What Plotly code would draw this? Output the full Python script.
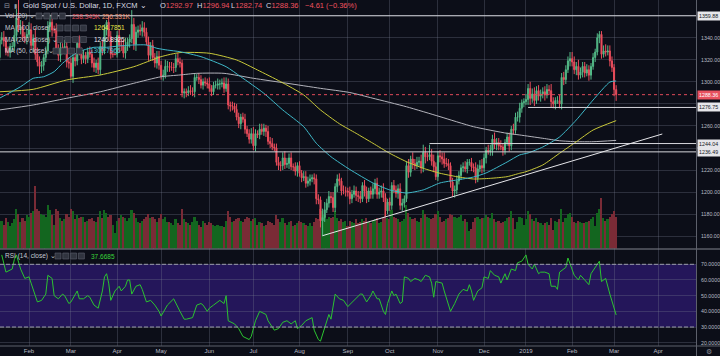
import pandas as pd
import plotly.graph_objects as go

# ---------------- data ----------------
first_open = 1322.0
closes = [
    1338,
    1340, 1337, 1327, 1327, 1332,
    1332, 1342, 1358, 1348, 1350,
    1341, 1340, 1343, 1347, 1333,
    1339, 1325, 1318, 1314, 1315,
    1322, 1328, 1350, 1354, 1347,
    1347, 1330, 1324, 1331, 1329,
    1332, 1318, 1317, 1305, 1322,
    1319, 1335, 1327, 1321, 1324,
    1321, 1327, 1325, 1317, 1313,
    1317, 1311, 1332, 1328, 1347,
    1354, 1341, 1325, 1325, 1325,
    1342, 1333, 1333, 1326, 1332,
    1336, 1339, 1352, 1334, 1345,
    1347, 1346, 1349, 1345, 1336,
    1324, 1333, 1322, 1317, 1323,
    1315, 1305, 1306, 1314, 1314,
    1313, 1313, 1313, 1321, 1318,
    1317, 1290, 1291, 1290, 1292,
    1291, 1291, 1304, 1304, 1302,
    1297, 1300, 1299, 1298, 1294,
    1291, 1297, 1297, 1298, 1298,
    1299, 1294, 1298, 1279, 1278,
    1278, 1275, 1268, 1262, 1268,
    1266, 1257, 1253, 1248, 1253,
    1242, 1253, 1252, 1257, 1255,
    1258, 1255, 1246, 1244, 1241,
    1240, 1227, 1224, 1224, 1231,
    1225, 1226, 1231, 1223, 1223,
    1219, 1224, 1217, 1213, 1214,
    1208, 1210, 1212, 1213, 1212,
    1194, 1193, 1174, 1177, 1184,
    1190, 1196, 1195, 1186, 1205,
    1212, 1210, 1201, 1201, 1201,
    1200, 1194, 1198, 1201, 1197,
    1196, 1194, 1206, 1201, 1194,
    1201, 1198, 1203, 1208, 1198,
    1200, 1201, 1195, 1183, 1191,
    1188, 1206, 1202, 1199, 1203,
    1188, 1190, 1194, 1224, 1218,
    1230, 1226, 1224, 1227, 1228,
    1222, 1236, 1232, 1232, 1234,
    1228, 1223, 1214, 1233, 1232,
    1230, 1226, 1226, 1224, 1209,
    1201, 1202, 1210, 1215, 1222,
    1223, 1221, 1227, 1227, 1223,
    1222, 1213, 1221, 1224, 1222,
    1231, 1238, 1237, 1238, 1248,
    1243, 1245, 1242, 1241, 1238,
    1245, 1250, 1242, 1257, 1256,
    1268, 1268, 1276, 1281,
    1282, 1284, 1294, 1285,
    1289, 1283, 1292, 1287, 1289,
    1291, 1288, 1293, 1292, 1282,
    1280, 1283, 1283, 1280, 1304,
    1302, 1311, 1319, 1321, 1318,
    1311, 1314, 1306, 1309, 1314,
    1308, 1311, 1306, 1314, 1322,
    1327, 1340, 1343, 1325, 1328,
    1327, 1328, 1319, 1313, 1292.97,
    1288.36,
]
upper_wick = [
    4,
    5, 6, 4, 5, 3,
    4, 5, 8, 18, 6,
    5, 4, 5, 7, 6,
    4, 10, 6, 5, 4,
    3, 4, 5, 7, 8,
    4, 6, 4, 5, 4,
    6, 5, 4, 5, 4,
    4, 5, 7, 4, 5,
    3, 4, 5, 4, 5,
    3, 5, 4, 6, 5,
    2, 6, 5, 3, 1,
    4, 5, 6, 5, 8,
    4, 4, 13, 6, 5,
    4, 5, 6, 5, 4,
    5, 3, 5, 4, 5,
    5, 4, 5, 6, 5,
    4, 5, 4, 4, 5,
    4, 3, 3, 3, 4,
    5, 4, 3, 3, 4,
    4, 3, 4, 4, 6,
    3, 3, 4, 5, 4,
    4, 5, 6, 5, 3,
    4, 3, 5, 4, 3,
    4, 5, 3, 4, 5,
    6, 4, 3, 5, 5,
    4, 3, 5, 4, 5,
    3, 4, 5, 4, 5,
    6, 5, 4, 5, 3,
    4, 3, 4, 3, 5,
    5, 4, 4, 3, 4,
    4, 4, 3, 8, 7,
    4, 5, 4, 5, 3,
    4, 5, 3, 5, 4,
    3, 5, 4, 5, 4,
    4, 5, 3, 5, 4,
    3, 4, 5, 4, 5,
    4, 5, 7, 4, 3,
    4, 3, 5, 4, 4,
    5, 4, 3, 4, 6,
    3, 6, 4, 5, 4,
    6, 7, 5, 4, 9,
    5, 6, 4, 4, 5,
    4, 6, 5, 4, 3,
    4, 4, 5, 4, 3,
    4, 5, 3, 3, 4,
    3, 5, 4, 5, 6,
    4, 3, 5, 5, 4,
    6, 4, 4, 5, 3,
    3, 4, 4, 3, 5,
    4, 5, 5, 3,
    3, 5, 4, 6,
    5, 6, 4, 5, 4,
    4, 5, 5, 4, 6,
    4, 3, 4, 5, 4,
    5, 4, 4, 6, 6,
    5, 4, 6, 4, 4,
    4, 5, 4, 3, 4,
    3, 4, 3, 3, 5,
    6, 5, 5, 4, 3,
    3.97,
]
lower_wick = [
    3,
    4, 5, 3, 4, 5,
    5, 4, 5, 3, 5,
    4, 5, 6, 3, 4,
    6, 5, 4, 7, 6,
    5, 4, 3, 5, 6,
    3, 4, 5, 6, 4,
    4, 5, 5, 2, 6,
    5, 4, 3, 5, 4,
    5, 4, 3, 4, 4,
    5, 4, 5, 4, 3,
    5, 4, 4, 3, 1,
    3, 6, 5, 4, 5,
    4, 5, 4, 5, 6,
    5, 4, 5, 4, 3,
    5, 4, 3, 4, 5,
    4, 3, 4, 3, 5,
    4, 3, 5, 4, 3,
    4, 4, 5, 4, 3,
    3, 4, 5, 3, 4,
    3, 4, 3, 4, 3,
    4, 3, 3, 4, 5,
    3, 4, 3, 4, 5,
    4, 3, 3, 4, 5,
    3, 4, 3, 4, 4,
    4, 5, 3, 4, 3,
    4, 5, 3, 4, 3,
    3, 3, 4, 5, 4,
    4, 3, 5, 3, 4,
    4, 5, 3, 4, 3,
    4, 3, 4, 3, 5,
    5, 4, 6, 14, 4,
    3, 4, 5, 4, 4,
    5, 4, 4, 3, 5,
    4, 5, 4, 3, 5,
    5, 4, 3, 5, 4,
    3, 4, 4, 5, 4,
    4, 5, 4, 5, 3,
    5, 4, 3, 4, 5,
    4, 5, 4, 3, 5,
    4, 5, 4, 3, 4,
    5, 4, 6, 4, 3,
    4, 5, 3, 4, 5,
    5, 4, 3, 4, 5,
    5, 6, 4, 3, 4,
    4, 3, 4, 3, 4,
    4, 5, 4, 3, 5,
    4, 5, 3, 4, 5,
    4, 5, 4, 3, 5,
    4, 3, 5, 4, 4,
    3, 4, 5, 4,
    4, 3, 5, 6,
    4, 5, 3, 4, 5,
    4, 5, 3, 4, 5,
    4, 5, 3, 4, 5,
    5, 4, 3, 5, 4,
    4, 5, 4, 3, 5,
    4, 3, 5, 4, 3,
    4, 3, 5, 4, 3,
    4, 3, 5, 4, 6,
    5.62,
]
volume_k = [
    190,
    210, 180, 230, 200, 170,
    190, 220, 300, 260, 200,
    230, 210, 250, 240, 270,
    280, 470, 300, 280, 260,
    250, 240, 330, 290, 250,
    180, 300, 280, 230, 210,
    220, 260, 240, 300, 280,
    220, 250, 230, 240, 240,
    200, 210, 220, 230, 210,
    200, 240, 280, 230, 290,
    270, 240, 250, 180, 120,
    210, 230, 250, 240, 230,
    210, 230, 290, 270, 230,
    200, 190, 210, 220, 240,
    260, 230, 240, 220, 200,
    230, 260, 220, 240, 200,
    200, 190, 180, 220, 190,
    180, 300, 220, 200, 190,
    180, 200, 240, 210, 180,
    160, 210, 190, 180, 200,
    190, 180, 170, 180, 170,
    170, 160, 210, 280, 240,
    200, 210, 220, 230, 210,
    200, 220, 240, 230, 210,
    220, 230, 180, 200, 190,
    170, 180, 210, 200, 190,
    180, 250, 220, 200, 230,
    190, 180, 200, 210, 170,
    180, 190, 210, 200, 190,
    180, 170, 190, 170, 200,
    230, 220, 300, 280, 250,
    220, 240, 230, 240, 280,
    230, 210, 220, 200, 210,
    170, 210, 200, 190, 220,
    190, 200, 220, 210, 230,
    200, 190, 210, 220, 230,
    190, 200, 230, 280, 230,
    220, 290, 240, 230, 220,
    200, 210, 220, 330, 270,
    240, 220, 230, 210, 200,
    230, 290, 260, 240, 230,
    220, 230, 260, 280, 240,
    200, 210, 220, 230, 260,
    250, 240, 230, 240, 250,
    210, 220, 200, 130, 150,
    200, 230, 240, 220, 230,
    230, 250, 240, 230, 270,
    220, 200, 210, 190, 200,
    210, 230, 240, 280, 230,
    150, 200, 240, 230,
    180, 220, 280, 260,
    220, 210, 230, 200, 190,
    180, 190, 200, 180, 230,
    140, 210, 200, 220, 300,
    200, 230, 260, 270, 240,
    200, 190, 210, 200, 190,
    190, 200, 210, 220, 240,
    170, 270, 300, 380, 230,
    210, 220, 240, 260, 280,
    238.345,
]

# (bar number, value) points
ma50_points = [(0, 1285.2), (10, 1295.6), (16, 1303.2), (21, 1304.6), (26, 1309.2), (30, 1316.8),
               (35, 1324.3), (40, 1328.8), (45, 1331.3), (51, 1331.3), (57, 1332.5), (64, 1333.4),
               (70, 1333.4), (75, 1330.4), (80, 1328.8), (86, 1327.3), (96, 1322.8), (108, 1313.7),
               (115, 1304.6), (126, 1289.6), (135, 1274.5), (145, 1259.3), (151, 1244.3), (158, 1232.1),
               (167, 1220.5), (178, 1208.3), (186, 1202.0), (194, 1199.2), (202, 1202.0), (210, 1208.3),
               (218, 1211.0), (226, 1213.7), (232, 1217.4), (242, 1227.3), (248, 1233.7), (252, 1235.5),
               (259, 1240.9), (267, 1250.0), (275, 1265.4), (283, 1283.5), (291, 1299.8), (294, 1300.8)]
ma100_points = [(0, 1291.0), (16, 1293.2), (32, 1301.7), (48, 1306.2), (64, 1313.7), (77, 1322.8),
                (86, 1326.5), (100, 1325.9), (113, 1319.8), (123, 1310.7), (134, 1300.1), (145, 1288.1),
                (153, 1274.5), (162, 1262.0), (170, 1253.3), (178, 1244.3), (186, 1235.2), (194, 1227.6),
                (202, 1221.6), (210, 1217.1), (218, 1214.0), (226, 1211.9), (234, 1212.5), (242, 1214.0),
                (248, 1217.1), (251, 1218.5), (259, 1224.6), (267, 1235.2), (275, 1245.7), (283, 1256.3),
                (294, 1264.8)]
ma200_points = [(0, 1274.5), (16, 1279.0), (32, 1285.1), (48, 1291.0), (64, 1298.7), (77, 1304.6),
                (86, 1306.2), (94, 1307.7), (107, 1307.7), (121, 1303.2), (137, 1298.7), (153, 1294.1),
                (167, 1290.3), (178, 1285.1), (194, 1277.4), (210, 1268.4), (226, 1259.3), (242, 1253.3),
                (248, 1251.8), (259, 1248.8), (267, 1246.6), (275, 1245.7), (283, 1245.7), (294, 1246.9)]
rsi_points = [(1, 76), (3, 65), (6, 67), (7, 73), (8, 76), (10, 67), (12, 61), (14, 62), (15, 58), (17, 49),
              (18, 46), (20, 47), (22, 51), (23, 63), (25, 61), (26, 50), (28, 48), (30, 51), (31, 50), (33, 45),
              (34, 46), (37, 53), (38, 48), (40, 48), (42, 50), (43, 49), (45, 44), (47, 42), (49, 53), (50, 62),
              (51, 64), (52, 58), (53, 47), (55, 53), (57, 56), (58, 53), (60, 56), (61, 60), (62, 60), (63, 51),
              (65, 56), (67, 57), (68, 54), (70, 46), (72, 47), (74, 44), (76, 40), (77, 37), (79, 42), (80, 44),
              (83, 48), (84, 45), (86, 40), (88, 35), (89, 35), (92, 36), (94, 44), (96, 45), (97, 44), (99, 40),
              (100, 42), (102, 44), (104, 46), (105, 47), (107, 45), (108, 50), (109, 34), (112, 32), (114, 29),
              (116, 24), (119, 22), (120, 24), (122, 34), (124, 40), (127, 38), (128, 34), (131, 28), (133, 29),
              (135, 33), (137, 34), (139, 32), (141, 34), (142, 29), (144, 31), (146, 34), (149, 36), (150, 28),
              (152, 22), (153, 21), (155, 30), (157, 38), (158, 35), (160, 51), (162, 48), (164, 47), (166, 43),
              (169, 47), (172, 51), (173, 51), (175, 46), (177, 50), (178, 53), (180, 48), (181, 48), (183, 40),
              (184, 38), (185, 45), (187, 53), (188, 50), (189, 51), (191, 45), (192, 46), (193, 62), (195, 61),
              (196, 59), (198, 61), (200, 60), (201, 59), (203, 63), (205, 62), (206, 58), (207, 49), (208, 59),
              (211, 58), (212, 53), (214, 45), (215, 40), (217, 45), (219, 51), (221, 54), (223, 53), (224, 57),
              (225, 53), (226, 47), (228, 53), (230, 55), (231, 62), (233, 61), (234, 66), (236, 63), (238, 62),
              (239, 58), (241, 64), (242, 60), (244, 67), (246, 66), (247, 71), (249, 72), (251, 76), (252, 70),
              (254, 67), (255, 70), (257, 64), (258, 65), (260, 65), (262, 64), (263, 56), (265, 56), (266, 54),
              (267, 65), (270, 68), (271, 74), (273, 66), (274, 63), (276, 60), (277, 63), (279, 60), (281, 57),
              (282, 64), (284, 68), (286, 72), (287, 59), (289, 61), (291, 51), (293, 43), (294, 37.67)]

month_ticks = ["2018-02-01", "2018-03-01", "2018-04-02", "2018-05-01", "2018-06-01", "2018-07-02",
               "2018-08-01", "2018-09-03", "2018-10-01", "2018-11-01", "2018-12-03", "2019-01-02",
               "2019-02-01", "2019-03-01", "2019-04-01"]
month_labels = ["Feb", "Mar", "Apr", "May", "Jun", "Jul", "Aug", "Sep", "Oct", "Nov", "Dec", "2019",
                "Feb", "Mar", "Apr"]

price_ticks = [1160, 1180, 1200, 1220, 1240, 1260, 1280, 1300, 1320, 1340, 1360]
price_tick_text = ["1160.00", "1180.00", "1200.00", "1220.00", "", "1260.00", "", "1300.00",
                   "1320.00", "1340.00", ""]
rsi_ticks = [20, 30, 40, 50, 60, 70]
rsi_tick_text = ["20.0000", "30.0000", "40.0000", "50.0000", "60.0000", "70.0000"]

full_levels = [1359.88, 1236.49]
ray_levels = [("2018-10-26", 1244.04), ("2019-01-03", 1276.75)]
last_price = 1288.36
trend_dates = ["2018-08-16", "2019-04-03"]
trend_prices = [1160.5, 1252.7]

# ---------------- calendar ----------------
holidays = pd.to_datetime(["2018-12-25", "2019-01-01"])
cal = pd.bdate_range("2018-01-12", "2019-04-30")
cal = cal[~cal.isin(holidays)]


def bar_of(d):
    return int(cal.searchsorted(pd.Timestamp(d)))


n = len(closes)
xs = list(range(n))
opens = [first_open] + closes[:-1]
highs = [max(o, c) + u for o, c, u in zip(opens, closes, upper_wick)]
lows = [min(o, c) - l for o, c, l in zip(opens, closes, lower_wick)]
up = [c >= o for o, c in zip(opens, closes)]

# ---------------- geometry (px) ----------------
W, H = 720, 356
PR = 696          # right edge of plotting area
MAIN_BOTTOM = 248.5
RSI_TOP, RSI_BOTTOM = 249, 346
px_per_bar = 2.097
x0 = 0.17
xrange_ = [x0, x0 + PR / px_per_bar]


def py(p):  # pixel y -> paper
    return 1 - p / H


def pxx(p):
    return p / W


BG = "#0c0e18"
GRID = "rgba(120,125,145,0.30)"
AX_TXT = "#b8bbc4"
FONT = "Liberation Sans"
UPC, DNC = "#53b987", "#eb4d5c"

fig = go.Figure()

# volume (base axis of main pane, drawn beneath)
fig.add_trace(go.Bar(x=xs, y=volume_k, width=0.8, xaxis="x", yaxis="y",
                     marker=dict(color=["#13661f" if u else "#7a2b36" for u in up], line=dict(width=0)),
                     hoverinfo="skip", showlegend=False))

# moving averages
for pts, col in [(ma200_points, "#b4b4bc"), (ma100_points, "#c9c93a"), (ma50_points, "#3fb8c8")]:
    fig.add_trace(go.Scatter(x=[p[0] for p in pts], y=[p[1] for p in pts], mode="lines",
                             line=dict(color=col, width=1, shape="spline", smoothing=0.6),
                             xaxis="x", yaxis="y3", hoverinfo="skip", showlegend=False))

fig.add_trace(go.Candlestick(x=xs, open=opens, high=highs, low=lows, close=closes,
                             xaxis="x", yaxis="y3",
                             increasing=dict(line=dict(color=UPC, width=1), fillcolor=UPC),
                             decreasing=dict(line=dict(color=DNC, width=1), fillcolor=DNC),
                             whiskerwidth=0, showlegend=False, hoverinfo="skip"))

fig.add_trace(go.Scatter(x=[p[0] for p in rsi_points], y=[p[1] for p in rsi_points], mode="lines",
                         line=dict(color="#2bc430", width=1), xaxis="x2", yaxis="y2",
                         hoverinfo="skip", showlegend=False))

tickpos = [bar_of(d) for d in month_ticks]

shapes = []
# RSI band
shapes.append(dict(type="rect", xref="paper", x0=0, x1=pxx(PR), yref="y2", y0=30, y1=70,
                   fillcolor="#24165a", line=dict(width=0), layer="below"))
for lv in (70, 30):
    shapes.append(dict(type="line", xref="paper", x0=0, x1=pxx(PR), yref="y2", y0=lv, y1=lv,
                       line=dict(color="#9a9cab", width=1, dash="4px,2px")))
# horizontal levels
for lv in full_levels:
    shapes.append(dict(type="line", xref="paper", x0=0, x1=pxx(PR), yref="y3", y0=lv, y1=lv,
                       line=dict(color="#d6d6dc", width=1)))
for d, lv in ray_levels:
    shapes.append(dict(type="line", xref="x", x0=bar_of(d), x1=xrange_[1], yref="y3", y0=lv, y1=lv,
                       line=dict(color="#d6d6dc", width=1)))
shapes.append(dict(type="line", xref="paper", x0=0, x1=pxx(PR), yref="y3", y0=last_price, y1=last_price,
                   line=dict(color="#e04a5a", width=1, dash="dot")))
shapes.append(dict(type="line", xref="x", x0=bar_of(trend_dates[0]), x1=bar_of(trend_dates[1]),
                   yref="y3", y0=trend_prices[0], y1=trend_prices[1],
                   line=dict(color="#e6e6ea", width=1)))
# pane separators
shapes.append(dict(type="line", xref="paper", x0=0, x1=1, yref="paper", y0=py(249), y1=py(249),
                   line=dict(color="#80838d", width=1)))
shapes.append(dict(type="line", xref="paper", x0=0, x1=1, yref="paper", y0=py(346), y1=py(346),
                   line=dict(color="#5d606b", width=1)))
shapes.append(dict(type="line", xref="paper", x0=pxx(PR + 0.5), x1=pxx(PR + 0.5), yref="paper", y0=0, y1=1,
                   line=dict(color="#5d606b", width=1)))

annotations = []


def txt(x, y, s, size=6.5, color="#c5c8d0", anchor="left"):
    annotations.append(dict(x=pxx(x), y=py(y), xref="paper", yref="paper", text=s, showarrow=False,
                            xanchor=anchor, yanchor="middle", font=dict(family=FONT, size=size, color=color)))


def boxes(x_start, y):
    for i in range(4):
        bx = x_start + i * 7.8
        shapes.append(dict(type="rect", xref="paper", yref="paper", x0=pxx(bx), x1=pxx(bx + 6),
                           y0=py(y + 3), y1=py(y - 3), fillcolor="#30343f",
                           line=dict(color="#5c606b", width=0.6)))


# header
txt(2, 5.5, "⊟", 7, "#9598a1")
txt(12, 5.5, "▮", 6, "#9598a1")
txt(21, 5.5, "Gold Spot / U.S. Dollar, 1D, FXCM ⌄", 7.5, "#d9dbe2")
red = "#f0525f"
txt(158, 5.5, f"O<span style='color:{red}'>1292.97</span>", 7.5, "#d9dbe2")
txt(195, 5.5, f"H<span style='color:{red}'>1296.94</span>", 7.5, "#d9dbe2")
txt(229, 5.5, f"L<span style='color:{red}'>1282.74</span>", 7.5, "#d9dbe2")
txt(264, 5.5, f"C<span style='color:{red}'>1288.36</span>", 7.5, "#d9dbe2")
txt(303, 5.5, "−4.61 (−0.36%)", 7.5, red)

# legends
txt(3, 16, "Vol (20) ⌄")
boxes(36, 16)
txt(70, 16, "238.345K", 6.5, "#e5535f")
txt(100, 16, "256.331K", 6.5, "#f2916e")
txt(3, 28, "MA (100, close) ⌄")
boxes(57, 28)
txt(92, 28, "1264.7851", 6.5, "#e8e84a")
txt(3, 39.5, "MA (200, close) ⌄")
boxes(57, 39.5)
txt(92, 39.5, "1246.8925", 6.5, "#e6e6ea")
txt(3, 51, "MA (50, close) ⌄")
boxes(53, 51)
txt(88, 51, "1300.7966", 6.5, "#4fc6d3")
txt(3, 256, "RSI (14, close) ⌄")
boxes(55, 256)
txt(89, 256, "37.6685", 6.5, "#3ad43a")

# price badges on the axis
for lv, bg, fg in [(1359.88, "#e6e6ea", "#131722"), (1276.75, "#e6e6ea", "#131722"),
                   (1244.04, "#e6e6ea", "#131722"), (1236.49, "#e6e6ea", "#131722"),
                   (last_price, "#e8515f", "#ffffff")]:
    annotations.append(dict(x=pxx(697), y=lv, xref="paper", yref="y3", text=f"{lv:.2f}", showarrow=False,
                            xanchor="left", yanchor="middle", bgcolor=bg, borderpad=1, width=20,
                            align="left", font=dict(family=FONT, size=5.3, color=fg)))
txt(709, 351, "⚙", 7, "#8a8d96", "center")

fig.update_layout(
    width=W, height=H, margin=dict(l=0, r=0, t=0, b=0),
    paper_bgcolor=BG, plot_bgcolor=BG, template="none",
    showlegend=False, bargap=0, shapes=shapes, annotations=annotations,
    xaxis=dict(domain=[0, pxx(PR)], range=xrange_, anchor="y", tickvals=tickpos, showticklabels=False,
               showgrid=True, gridcolor=GRID, gridwidth=1, zeroline=False, showline=False, ticks="",
               rangeslider=dict(visible=False), automargin=False),
    xaxis2=dict(domain=[0, pxx(PR)], range=xrange_, anchor="y2", matches="x", tickvals=tickpos,
                ticktext=month_labels, tickfont=dict(family=FONT, size=6, color=AX_TXT),
                showgrid=True, gridcolor=GRID, zeroline=False, showline=False, ticks="", ticklen=0,
                automargin=False),
    yaxis=dict(domain=[py(MAIN_BOTTOM), 1], range=[0, 1864], visible=False, fixedrange=True),
    yaxis3=dict(domain=[py(MAIN_BOTTOM), 1], overlaying="y", anchor="x", side="right",
                range=[1148.88, 1374.18], tickvals=price_ticks, ticktext=price_tick_text,
                tickfont=dict(family=FONT, size=5.3, color=AX_TXT), showgrid=True, gridcolor=GRID,
                zeroline=False, showline=False, ticks="", ticklabelstandoff=4, automargin=False),
    yaxis2=dict(domain=[py(RSI_BOTTOM), py(RSI_TOP)], anchor="x2", side="right", range=[17.9, 79.76],
                tickvals=rsi_ticks, ticktext=rsi_tick_text, tickfont=dict(family=FONT, size=5.3, color=AX_TXT),
                showgrid=True, gridcolor=GRID, zeroline=False, showline=False, ticks="",
                ticklabelstandoff=4, automargin=False),
)

fig.write_html("out.html", config={"displayModeBar": False},
               post_script="document.body.style.margin='0px';document.body.style.overflow='hidden';")
